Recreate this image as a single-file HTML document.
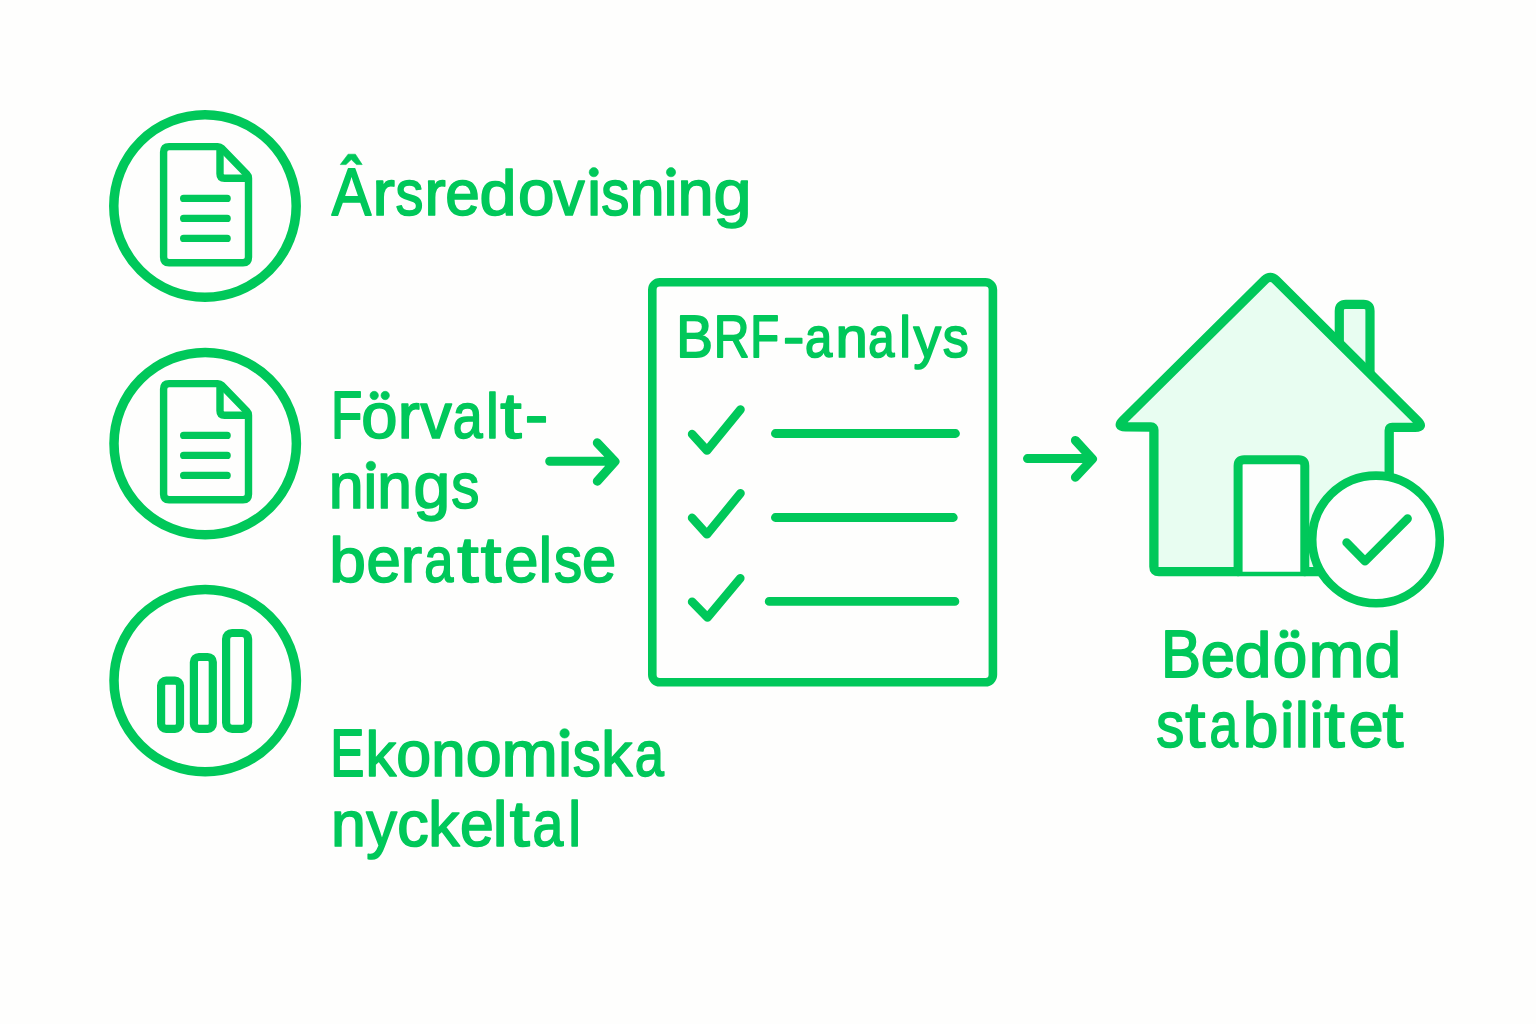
<!DOCTYPE html>
<html>
<head>
<meta charset="utf-8">
<style>
html,body{margin:0;padding:0;width:1536px;height:1024px;overflow:hidden;background:#fefefd;}
svg{position:absolute;left:0;top:0;display:block;}
text{font-family:"Liberation Sans",sans-serif;fill:#00c85a;stroke:#00c85a;stroke-width:1.7px;stroke-linejoin:round;paint-order:stroke;}
.dot{fill:#00c85a;stroke:#00c85a;stroke-width:0.6px;stroke-linejoin:round;}

</style>
</head>
<body>
<svg width="1536" height="1024" viewBox="0 0 1536 1024">
<g fill="none" stroke="#00c85a" stroke-linecap="round" stroke-linejoin="round">
  <!-- left circles -->
  <circle cx="205" cy="206" r="91.2" stroke-width="9.5"/>
  <circle cx="205.2" cy="443.6" r="91.2" stroke-width="9.5"/>
  <circle cx="205.2" cy="680.6" r="91.2" stroke-width="9.5"/>

  <!-- doc 1 -->
  <g id="doc" stroke-width="7.4">
    <path d="M163.60,152.10 Q163.60,146.60 169.10,146.60 L217.80,146.60 Q220.00,146.60 221.53,148.18 L246.97,174.42 Q248.50,176.00 248.50,178.20 L248.50,257.30 Q248.50,262.80 243.00,262.80 L169.10,262.80 Q163.60,262.80 163.60,257.30 Z"/>
    <path d="M220.00,149.50 L220.00,173.80 Q220.00,178.30 224.50,178.30 L248.50,178.30" stroke-linecap="butt"/>
    <path d="M183.6,198.4 L227.2,198.4 M183.6,218.4 L227.2,218.4 M183.6,238.4 L227.2,238.4" stroke-width="7.2"/>
  </g>
  <use href="#doc" transform="translate(0,237)"/>

  <!-- bars -->
  <g stroke-width="8.2">
    <rect x="161.1" y="680.6" width="18.9" height="48.2" rx="5"/>
    <rect x="193.9" y="657" width="18.9" height="71.8" rx="5"/>
    <rect x="226.1" y="633" width="22" height="95.8" rx="6"/>
  </g>

  <!-- arrow 1 -->
  <path d="M549.7,461.2 L613,461.2 M597.3,442.8 L615,461.5 L597.3,481.2" stroke-width="9"/>

  <!-- box -->
  <rect x="652.3" y="282.3" width="340.6" height="400" rx="7.5" stroke-width="8.6"/>

  <!-- checks -->
  <g stroke-width="8.6">
    <path d="M692.1,434.1 L707,450.5 L740.5,409.5"/>
    <path d="M692.1,517.9 L707,534.3 L740.5,493.3"/>
    <path d="M692.1,601.8 L707.5,617.4 L740.3,578.2"/>
    <path d="M775.4,433.5 L955.5,433.5 M775.4,517.5 L953.3,517.5 M769.2,601.4 L954.9,601.4" stroke-width="8.8"/>
  </g>

  <!-- arrow 2 -->
  <path d="M1027.5,458.6 L1090,458.6 M1075.4,440.4 L1092.5,459 L1075.4,477.3" stroke-width="9"/>

  <!-- house -->
  <path d="M1339.30,360.00 Q1339.30,360.00 1339.30,360.00 L1339.30,310.90 Q1339.30,304.40 1345.80,304.40 L1363.50,304.40 Q1370.00,304.40 1370.00,310.90 L1370.00,385.00 Q1370.00,385.00 1370.00,385.00 Z" fill="#e8fdf1" stroke-width="9.2"/>
  <path d="M1158.90,571.70 Q1153.90,571.70 1153.90,566.70 L1153.90,430.00 Q1153.90,427.00 1150.90,426.99 L1125.50,426.92 Q1116.50,426.90 1122.89,420.57 L1264.62,280.13 Q1270.30,274.50 1275.97,280.14 L1417.72,421.05 Q1424.10,427.40 1415.10,427.40 L1392.20,427.40 Q1389.20,427.40 1389.20,430.40 L1389.20,566.70 Q1389.20,571.70 1384.20,571.70 Z" fill="#e8fdf1" stroke-width="9.3"/>
  <path d="M1238.10,571.70 L1238.10,465.70 Q1238.10,459.70 1244.10,459.70 L1298.80,459.70 Q1304.80,459.70 1304.80,465.70 L1304.80,571.70" fill="#fefefe" stroke-width="9"/>
  <circle cx="1376" cy="539.4" r="63.8" fill="#fefefe" stroke-width="8.6"/>
  <path d="M1346.6,542.6 L1365,561.2 L1407.6,518.6" stroke-width="8.6"/>
</g>

<g font-size="64.00">
<text transform="translate(331.67,215.00) scale(0.9244,1.0350)">A</text>
<text transform="translate(372.53,215.00) scale(1.0508,1.0000)">r</text>
<text transform="translate(395.39,215.00) scale(0.8714,1.0000)">s</text>
<text transform="translate(424.62,215.00) scale(0.9944,1.0000)">r</text>
<text transform="translate(445.19,215.00) scale(0.9707,1.0000)">e</text>
<text transform="translate(479.49,215.00) scale(1.0400,0.9750)">d</text>
<text transform="translate(518.02,215.00) scale(1.0245,1.0000)">o</text>
<text transform="translate(553.71,215.00) scale(0.9651,1.0000)">v</text>
<text transform="translate(585.40,215.00) scale(0.9693,1.0000)">ı</text>
<text transform="translate(601.18,215.00) scale(0.8782,1.0000)">s</text>
<text transform="translate(629.55,215.00) scale(0.9866,1.0000)">n</text>
<text transform="translate(662.10,215.00) scale(0.9693,1.0000)">ı</text>
<text transform="translate(677.45,215.00) scale(1.0143,1.0000)">n</text>
<text transform="translate(713.43,215.00) scale(1.0695,1.0000)">g</text>
</g>
<circle cx="593.80" cy="172.20" r="4.60" class="dot"/>
<circle cx="671.00" cy="172.20" r="4.60" class="dot"/>
<g class="dot"><path d="M340.3,164.6 L348.1,154.2 L355.4,154.2 L362.2,164.6 L356.5,164.6 L351.25,159.5 L346,164.6 Z"/></g>
<g font-size="64.00">
<text transform="translate(331.08,438.10) scale(0.8005,1.0350)">F</text>
<text transform="translate(361.33,438.10) scale(1.0182,1.0000)">o</text>
<text transform="translate(397.68,438.10) scale(1.0339,1.0000)">r</text>
<text transform="translate(420.62,438.10) scale(0.9771,1.0000)">v</text>
<text transform="translate(452.73,438.10) scale(0.8388,1.0000)">a</text>
<text transform="translate(485.98,438.10) scale(0.9010,0.9750)">l</text>
<text transform="translate(500.13,438.10) scale(1.2000,1.0000)">t</text>
<text transform="translate(524.70,437.10) scale(1.1025,1.0000)">-</text>
</g>
<circle cx="374.20" cy="395.50" r="4.20" class="dot"/>
<circle cx="385.20" cy="395.50" r="4.20" class="dot"/>
<g font-size="64.00">
<text transform="translate(328.87,508.40) scale(0.9797,1.0000)">n</text>
<text transform="translate(361.85,508.40) scale(0.9693,1.0000)">ı</text>
<text transform="translate(377.29,508.40) scale(0.9727,1.0000)">n</text>
<text transform="translate(413.40,508.40) scale(1.0318,1.0000)">g</text>
<text transform="translate(451.18,508.40) scale(0.8782,1.0000)">s</text>
</g>
<circle cx="370.90" cy="465.90" r="4.70" class="dot"/>
<g font-size="64.00">
<text transform="translate(329.33,581.80) scale(1.0301,0.9750)">b</text>
<text transform="translate(366.40,581.80) scale(0.9643,1.0000)">e</text>
<text transform="translate(400.80,581.80) scale(1.0000,1.0000)">r</text>
<text transform="translate(424.17,581.80) scale(0.8185,1.0000)">a</text>
<text transform="translate(457.13,581.80) scale(1.2000,1.0000)">t</text>
<text transform="translate(480.86,581.80) scale(1.1638,1.0000)">t</text>
<text transform="translate(504.09,581.80) scale(0.9675,1.0000)">e</text>
<text transform="translate(538.69,581.80) scale(0.9283,0.9750)">l</text>
<text transform="translate(554.08,581.80) scale(0.8782,1.0000)">s</text>
<text transform="translate(582.10,581.80) scale(0.9612,1.0000)">e</text>
</g>
<g font-size="64.00">
<text transform="translate(330.22,775.90) scale(0.8000,1.0350)">E</text>
<text transform="translate(365.48,775.90) scale(0.9599,0.9750)">k</text>
<text transform="translate(396.30,775.90) scale(0.9806,1.0000)">o</text>
<text transform="translate(431.33,775.90) scale(0.9624,1.0000)">n</text>
<text transform="translate(465.85,775.90) scale(1.0088,1.0000)">o</text>
<text transform="translate(501.51,775.90) scale(1.0571,1.0000)">m</text>
<text transform="translate(556.55,775.90) scale(0.9693,1.0000)">ı</text>
<text transform="translate(572.68,775.90) scale(0.8782,1.0000)">s</text>
<text transform="translate(601.33,775.90) scale(0.9735,0.9750)">k</text>
<text transform="translate(634.87,775.90) scale(0.8185,1.0000)">a</text>
</g>
<circle cx="564.60" cy="733.40" r="4.70" class="dot"/>
<g font-size="64.00">
<text transform="translate(331.07,846.00) scale(0.9797,1.0000)">n</text>
<text transform="translate(366.27,846.00) scale(0.9605,1.0000)">y</text>
<text transform="translate(397.26,846.00) scale(0.9831,1.0000)">c</text>
<text transform="translate(428.22,846.00) scale(0.9769,0.9750)">k</text>
<text transform="translate(459.93,846.00) scale(0.9486,1.0000)">e</text>
<text transform="translate(492.81,846.00) scale(1.0375,0.9750)">l</text>
<text transform="translate(509.87,846.00) scale(1.1250,1.0000)">t</text>
<text transform="translate(532.58,846.00) scale(0.8648,1.0000)">a</text>
<text transform="translate(568.28,846.00) scale(0.9010,0.9750)">l</text>
</g>
<g font-size="57.00">
<text transform="translate(676.31,357.20) scale(0.9645,1.0300)">B</text>
<text transform="translate(713.77,357.20) scale(0.8694,1.0300)">R</text>
<text transform="translate(750.33,357.20) scale(0.8288,1.0300)">F</text>
<text transform="translate(782.90,356.20) scale(1.1270,1.0000)">-</text>
<text transform="translate(804.95,357.20) scale(0.8619,1.0000)">a</text>
<text transform="translate(835.51,357.20) scale(1.0188,1.0000)">n</text>
<text transform="translate(868.20,357.20) scale(0.8264,1.0000)">a</text>
<text transform="translate(899.24,357.20) scale(0.9240,1.0000)">l</text>
<text transform="translate(913.49,357.20) scale(0.9683,1.0000)">y</text>
<text transform="translate(942.63,357.20) scale(0.9114,1.0000)">s</text>
</g>
<g font-size="64.00">
<text transform="translate(1160.98,676.90) scale(0.9367,1.0350)">B</text>
<text transform="translate(1200.70,676.90) scale(0.9643,1.0000)">e</text>
<text transform="translate(1234.49,676.90) scale(1.0400,0.9750)">d</text>
<text transform="translate(1272.82,676.90) scale(0.9681,1.0000)">o</text>
<text transform="translate(1308.54,676.90) scale(1.0485,1.0000)">m</text>
<text transform="translate(1364.40,676.90) scale(1.0334,0.9750)">d</text>
</g>
<circle cx="1284.00" cy="634.00" r="4.10" class="dot"/>
<circle cx="1295.00" cy="634.00" r="4.10" class="dot"/>
<g font-size="64.00">
<text transform="translate(1156.29,747.20) scale(0.8748,1.0000)">s</text>
<text transform="translate(1185.37,747.20) scale(1.1306,1.0000)">t</text>
<text transform="translate(1209.52,747.20) scale(0.8000,1.0000)">a</text>
<text transform="translate(1242.82,747.20) scale(1.0006,0.9750)">b</text>
<text transform="translate(1278.50,747.20) scale(0.9693,1.0000)">ı</text>
<text transform="translate(1294.65,747.20) scale(0.9966,0.9750)">l</text>
<text transform="translate(1308.00,747.20) scale(0.9693,1.0000)">ı</text>
<text transform="translate(1324.16,747.20) scale(1.1472,1.0000)">t</text>
<text transform="translate(1348.77,747.20) scale(0.9770,1.0000)">e</text>
<text transform="translate(1382.56,747.20) scale(1.1749,1.0000)">t</text>
</g>
<circle cx="1287.10" cy="704.70" r="4.40" class="dot"/>
<circle cx="1316.80" cy="704.70" r="4.40" class="dot"/>
</svg>
</body>
</html>
